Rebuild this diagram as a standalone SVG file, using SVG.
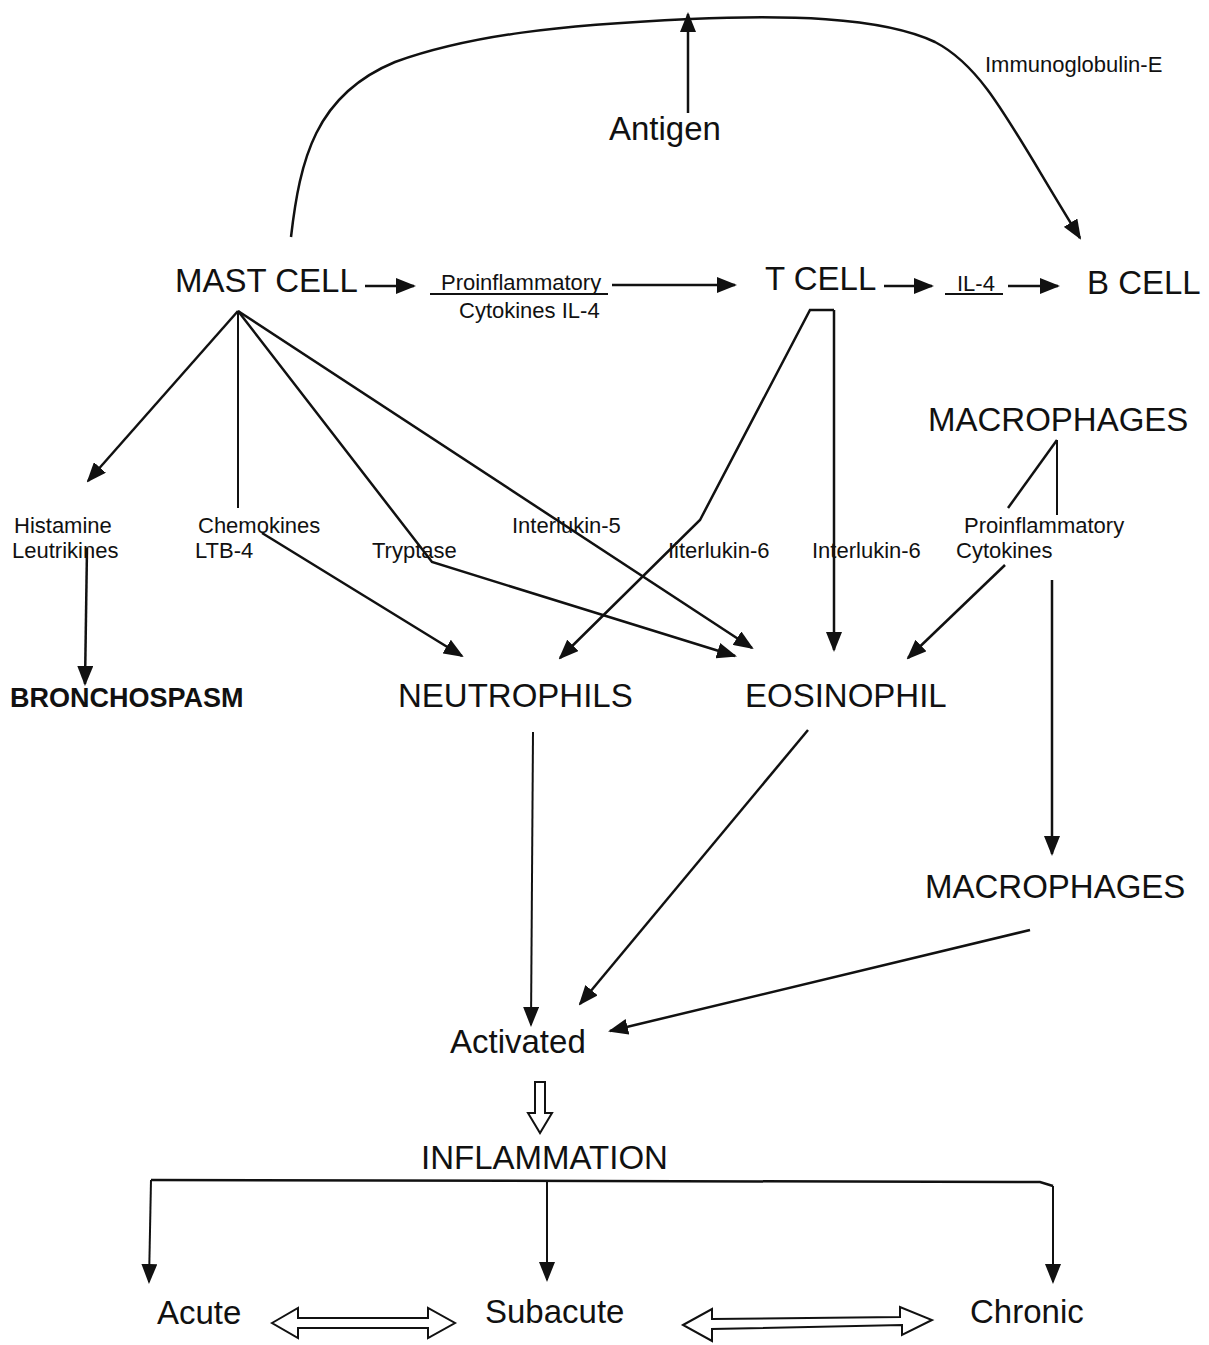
<svg xmlns="http://www.w3.org/2000/svg" width="1209" height="1345" viewBox="0 0 1209 1345">
<style>
text{font-family:"Liberation Sans",Arial,sans-serif;fill:#111}
.big{font-size:33px}
.sm{font-size:22px}
.bold{font-size:27px;font-weight:bold}
.ln{stroke:#111;stroke-width:2.5;fill:none}
.thin{stroke:#111;stroke-width:2;fill:none}
.hol{stroke:#111;stroke-width:2;fill:#fff}
</style>
<defs>
<marker id="ah" markerWidth="20" markerHeight="16" refX="18" refY="8" orient="auto" markerUnits="userSpaceOnUse">
<path d="M0,0 L20,8 L0,16 z" fill="#111"/>
</marker>
</defs>
<rect width="1209" height="1345" fill="#fff"/>
<g id="connectors">
<path class="ln" d="M291,237 C300,160 315,95 395,62 C470,35 560,25 690,19 C780,15 880,16 935,42 C985,68 1010,125 1080,238" marker-end="url(#ah)"/>
<line class="ln" x1="688" y1="113" x2="688" y2="14" marker-end="url(#ah)"/>
<line class="ln" x1="365" y1="286" x2="414" y2="286" marker-end="url(#ah)"/>
<line class="thin" x1="430" y1="294" x2="608" y2="294"/>
<line class="ln" x1="612" y1="285" x2="735" y2="285" marker-end="url(#ah)"/>
<line class="ln" x1="884" y1="286" x2="932" y2="286" marker-end="url(#ah)"/>
<line class="thin" x1="945" y1="294" x2="1003" y2="294"/>
<line class="ln" x1="1008" y1="286" x2="1058" y2="286" marker-end="url(#ah)"/>
<line class="ln" x1="238" y1="311" x2="88" y2="481" marker-end="url(#ah)"/>
<line class="thin" x1="238" y1="311" x2="238" y2="508"/>
<polyline class="ln" points="238,311 432,562 735,656" marker-end="url(#ah)"/>
<line class="ln" x1="238" y1="311" x2="752" y2="648" marker-end="url(#ah)"/>
<line class="ln" x1="262" y1="533" x2="462" y2="656" marker-end="url(#ah)"/>
<line class="ln" x1="87" y1="548" x2="85" y2="684" marker-end="url(#ah)"/>
<polyline class="ln" points="834,310 810,310 700,520 560,658" marker-end="url(#ah)"/>
<line class="ln" x1="834" y1="310" x2="834" y2="650" marker-end="url(#ah)"/>
<line class="ln" x1="1057" y1="440" x2="1008" y2="508"/>
<line class="thin" x1="1057" y1="440" x2="1057" y2="515"/>
<line class="ln" x1="1005" y1="565" x2="908" y2="658" marker-end="url(#ah)"/>
<line class="ln" x1="1052" y1="580" x2="1052" y2="854" marker-end="url(#ah)"/>
<line class="thin" x1="533" y1="732" x2="531" y2="1025" marker-end="url(#ah)"/>
<line class="ln" x1="808" y1="730" x2="580" y2="1004" marker-end="url(#ah)"/>
<line class="ln" x1="1030" y1="930" x2="610" y2="1031" marker-end="url(#ah)"/>
<polygon class="hol" points="535,1082 545,1082 545,1113 552,1113 540,1133 528,1113 535,1113"/>
<polyline class="ln" points="151,1180 1040,1182 1053,1186"/>
<line class="thin" x1="151" y1="1180" x2="149" y2="1282" marker-end="url(#ah)"/>
<line class="thin" x1="547" y1="1182" x2="547" y2="1280" marker-end="url(#ah)"/>
<line class="thin" x1="1053" y1="1186" x2="1053" y2="1282" marker-end="url(#ah)"/>
<polygon class="hol" points="272,1323 298,1308 298,1318 428,1318 428,1308 455,1323 428,1338 428,1328 298,1328 298,1338"/>
<polygon class="hol" points="683,1325 712,1309 712,1319 900,1317 900,1307 932,1320 902,1335 902,1325 712,1329 712,1341"/>
</g>
<g id="antigen"><text class="big" x="609" y="140">Antigen</text></g>
<g id="ige"><text class="sm" x="985" y="72">Immunoglobulin-E</text></g>
<g id="mast-cell"><text class="big" x="175" y="292">MAST CELL</text></g>
<g id="proinf-label"><text class="sm" x="441" y="290">Proinflammatory</text><text class="sm" x="459" y="318">Cytokines IL-4</text></g>
<g id="t-cell"><text class="big" x="765" y="290">T CELL</text></g>
<g id="il4"><text class="sm" x="957" y="291">IL-4</text></g>
<g id="b-cell"><text class="big" x="1087" y="294">B CELL</text></g>
<g id="histamine"><text class="sm" x="14" y="533">Histamine</text><text class="sm" x="12" y="558">Leutrikines</text></g>
<g id="chemokines"><text class="sm" x="198" y="533">Chemokines</text><text class="sm" x="195" y="558">LTB-4</text></g>
<g id="tryptase"><text class="sm" x="372" y="558">Tryptase</text></g>
<g id="il5"><text class="sm" x="512" y="533">Interlukin-5</text></g>
<g id="il6a"><text class="sm" x="668" y="558">Iiterlukin-6</text></g>
<g id="il6b"><text class="sm" x="812" y="558">Interlukin-6</text></g>
<g id="macro1"><text class="big" x="928" y="431">MACROPHAGES</text></g>
<g id="proinf2"><text class="sm" x="964" y="533">Proinflammatory</text><text class="sm" x="956" y="558">Cytokines</text></g>
<g id="broncho"><text class="bold" x="10" y="707">BRONCHOSPASM</text></g>
<g id="neutrophils"><text class="big" x="398" y="707">NEUTROPHILS</text></g>
<g id="eosinophil"><text class="big" x="745" y="707">EOSINOPHIL</text></g>
<g id="macro2"><text class="big" x="925" y="898">MACROPHAGES</text></g>
<g id="activated"><text class="big" x="450" y="1053">Activated</text></g>
<g id="inflammation"><text class="big" x="421" y="1169">INFLAMMATION</text></g>
<g id="acute"><text class="big" x="157" y="1324">Acute</text></g>
<g id="subacute"><text class="big" x="485" y="1323">Subacute</text></g>
<g id="chronic"><text class="big" x="970" y="1323">Chronic</text></g>
</svg>
